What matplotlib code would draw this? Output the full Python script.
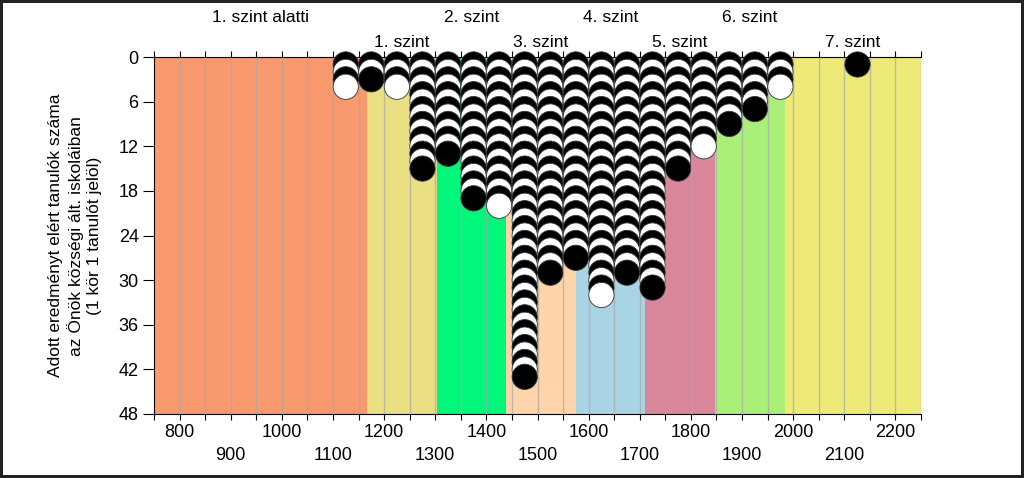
import matplotlib
matplotlib.use("Agg")
import matplotlib.pyplot as plt
import matplotlib.transforms as mtransforms

plt.rcParams['font.family'] = ['Liberation Sans', 'DejaVu Sans']

# score bins (bin centres, 50 wide) and number of students in each
bin_centres = [1125, 1175, 1225, 1275, 1325, 1375, 1425, 1475, 1525, 1575,
               1625, 1675, 1725, 1775, 1825, 1875, 1925, 1975, 2125]
counts = [4, 3, 4, 15, 13, 19, 20, 43, 29, 27,
          32, 29, 31, 15, 12, 9, 7, 4, 1]

# proficiency level bands
level_edges = [750, 1167, 1303, 1438, 1575, 1710, 1847, 1984, 2250]
level_names = ["1. szint alatti", "1. szint", "2. szint", "3. szint",
               "4. szint", "5. szint", "6. szint", "7. szint"]
level_colors = ["#F89A6E", "#EADF82", "#00F77A", "#FFD4AB",
                "#A8D4E4", "#D9869A", "#A9EF78", "#EEEA78"]

x_ticks = list(range(750, 2251, 50))
x_labels = []
for t in x_ticks:
    if t % 200 == 0:
        x_labels.append(str(t))
    elif t % 100 == 0:
        x_labels.append("\n" + str(t))
    else:
        x_labels.append("")
y_ticks = [0, 6, 12, 18, 24, 30, 36, 42, 48]

fig = plt.figure(figsize=(10.24, 4.78), dpi=100)
fig.patch.set_edgecolor("#222222")
fig.patch.set_linewidth(3)
ax = fig.add_axes([154 / 1024, 64 / 478, 767 / 1024, 357 / 478])

for i, col in enumerate(level_colors):
    ax.axvspan(level_edges[i], level_edges[i + 1], color=col, lw=0, zorder=0)

for t in x_ticks[1:]:
    ax.axvline(t, color="#A8A8A8", lw=1, alpha=0.7, zorder=1)

for xc, n in zip(bin_centres, counts):
    ys = list(range(1, n + 1))
    cols = ["black" if k % 2 == 1 else "white" for k in ys]
    ax.scatter([xc] * n, ys, s=330, c=cols, edgecolors="#333333",
               linewidths=0.6, zorder=3, clip_on=False)

ax.set_xlim(750, 2250)
ax.set_ylim(48, 0)
ax.set_xticks(x_ticks)
ax.set_xticklabels(x_labels, fontsize=13, linespacing=1.45)
ax.set_yticks(y_ticks)
ax.set_yticklabels([str(v) for v in y_ticks], fontsize=13)
ax.tick_params(axis="x", top=True, direction="out", length=4, width=0.8, pad=3)
ax.tick_params(axis="y", direction="out", length=8, width=0.8, pad=3)
ax.spines["right"].set_visible(False)
for s in ["left", "top", "bottom"]:
    ax.spines[s].set_linewidth(0.8)

trans = mtransforms.blended_transform_factory(ax.transData, ax.transAxes)
for i, name in enumerate(level_names):
    xc = (level_edges[i] + level_edges[i + 1]) / 2
    yy = 1.112 if i % 2 == 0 else 1.042
    ax.text(xc, yy, name, transform=trans, ha="center", va="center", fontsize=12.5)

fig.text(75 / 1024, 0.507,
         "Adott eredményt elért tanulók száma\naz Önök községi ált. iskoláiban\n(1 kör 1 tanulót jelöl)",
         rotation=90, ha="center", va="center", multialignment="center",
         fontsize=12.5, linespacing=1.25)

fig.savefig("out.png", dpi=100, edgecolor=fig.get_edgecolor())
